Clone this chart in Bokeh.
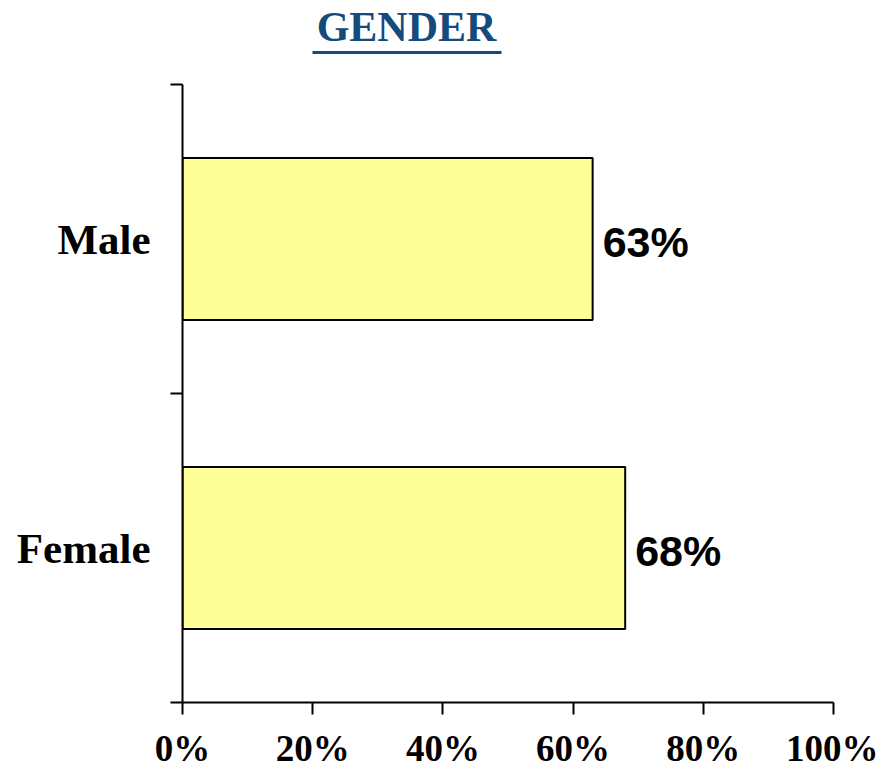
from bokeh.plotting import figure
from bokeh.models import Range1d, FixedTicker, ColumnDataSource
from bokeh.core.properties import value
from bokeh.embed import file_html
from bokeh.resources import INLINE

categories = ["Female", "Male"]
percentages = [68, 63]
x_ticks = [0, 20, 40, 60, 80, 100]
x_tick_labels = ["0%", "20%", "40%", "60%", "80%", "100%"]
title_text = "GENDER"

n = len(categories)
pos = [i + 0.5 for i in range(n)]
src = ColumnDataSource(dict(y=pos, v=percentages, lab=[f"{v}%" for v in percentages]))

# layout (pixels)
frame_left, frame_w = 182, 651
frame_top_axis, frame_h = 84, 618   # axis portion of the frame
row_px = frame_h / n
y_top = n + frame_top_axis / row_px  # frame extends to canvas top to host the title

W, H = 878, 771
p = figure(width=W, height=H, output_backend="svg", toolbar_location=None,
           x_range=Range1d(0, 100), y_range=Range1d(0, y_top),
           min_border_left=frame_left, min_border_right=W - frame_left - frame_w,
           min_border_top=0, min_border_bottom=H - frame_top_axis - frame_h)
p.outline_line_color = None
p.xgrid.visible = False
p.ygrid.visible = False

p.hbar(y="y", left=0, right="v", height=0.525, source=src,
       fill_color="#FFFF99", line_color="black", line_width=2)
p.text(x="v", y="y", text="lab", source=src, x_offset=10, y_offset=3, text_baseline="middle",
       text_align="left", text_font=value("Liberation Sans"), text_font_style="bold",
       text_font_size="43px", text_color="black")

# title with underline (in the space above the axis)
def px_to_x(px):
    return (px - frame_left) / frame_w * 100

def py_to_y(py):
    return n + (frame_top_axis - py) / row_px

p.text(x=[px_to_x(406)], y=[py_to_y(26)], text=[title_text], text_align="center",
       text_baseline="middle", text_font=value("Liberation Serif"),
       text_font_style="bold", text_font_size="42px", text_color="#154A7C")
p.segment(x0=[px_to_x(312)], y0=[py_to_y(52)], x1=[px_to_x(501)], y1=[py_to_y(52)],
          line_color="#154A7C", line_width=3)

# x axis
p.xaxis.ticker = FixedTicker(ticks=x_ticks)
p.xaxis.major_label_overrides = {t: l for t, l in zip(x_ticks, x_tick_labels)}
p.xaxis.minor_tick_line_color = None
p.xaxis.major_tick_out = 12
p.xaxis.major_tick_in = 0
p.xaxis.axis_line_width = 2
p.xaxis.major_tick_line_width = 2
p.xaxis.axis_line_color = "black"
p.xaxis.major_tick_line_color = "black"
p.xaxis.major_label_text_font = "Liberation Serif"
p.xaxis.major_label_text_font_style = "bold"
p.xaxis.major_label_text_font_size = "37px"
p.xaxis.major_label_text_color = "black"
p.xaxis.major_label_standoff = 13

# y axis
p.yaxis.bounds = (0, n)
p.yaxis.ticker = FixedTicker(ticks=pos, minor_ticks=list(range(n + 1)))
p.yaxis.major_label_overrides = {t: c for t, c in zip(pos, categories)}
p.yaxis.major_tick_out = 0
p.yaxis.major_tick_in = 0
p.yaxis.minor_tick_out = 12
p.yaxis.minor_tick_in = 0
p.yaxis.minor_tick_line_width = 2
p.yaxis.minor_tick_line_color = "black"
p.yaxis.axis_line_width = 2
p.yaxis.axis_line_color = "black"
p.yaxis.major_label_text_font = "Liberation Serif"
p.yaxis.major_label_text_font_style = "bold"
p.yaxis.major_label_text_font_size = "43px"
p.yaxis.major_label_text_color = "black"
p.yaxis.major_label_standoff = 20
p.yaxis.major_label_orientation = "horizontal"

open("out.html", "w").write(file_html(p, INLINE))
